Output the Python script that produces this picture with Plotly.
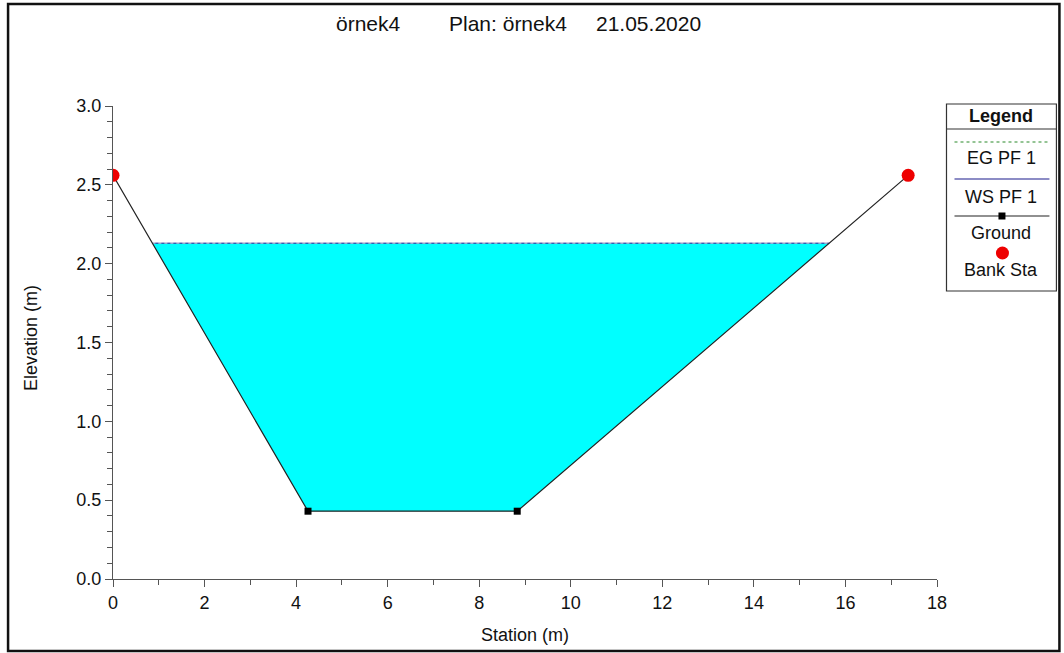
import plotly.graph_objects as go

# ---- data ----
ground_station = [0.0, 4.26, 8.83, 17.37]
ground_elev = [2.56, 0.43, 0.43, 2.56]
bank_station = [0.0, 17.37]
bank_elev = [2.56, 2.56]
ws_elev = 2.13
eg_elev = 2.131
title_parts = ["örnek4", "Plan: örnek4", "21.05.2020"]
legend_labels = ["EG PF 1", "WS PF 1", "Ground", "Bank Sta"]
x_title = "Station (m)"
y_title = "Elevation (m)"

# ---- geometry helpers ----
W, H = 1064, 653
L, R, T, B = 113, 937.5, 106, 579  # plot area in pixels


def px(x):
    return (x - L) / (R - L)


def py(y):
    return (B - y) / (B - T)


def crossings(xs, ys, level):
    pts = []
    for i in range(len(xs) - 1):
        y0, y1 = ys[i], ys[i + 1]
        if (y0 - level) * (y1 - level) < 0:
            t = (level - y0) / (y1 - y0)
            pts.append(xs[i] + t * (xs[i + 1] - xs[i]))
    return pts


xl, xr = crossings(ground_station, ground_elev, ws_elev)
fill_x = [xl] + [s for s, e in zip(ground_station, ground_elev) if e < ws_elev] + [xr, xl]
fill_y = [ws_elev] + [e for e in ground_elev if e < ws_elev] + [ws_elev, ws_elev]

fig = go.Figure()
fig.add_trace(go.Scatter(x=fill_x, y=fill_y, mode="lines", fill="toself",
                         fillcolor="#00FFFF", line=dict(width=0), hoverinfo="skip"))
fig.add_trace(go.Scatter(x=[xl, xr], y=[ws_elev, ws_elev], mode="lines",
                         line=dict(color="#1a1a8c", width=1)))
fig.add_trace(go.Scatter(x=[xl, xr], y=[eg_elev, eg_elev], mode="lines",
                         line=dict(color="#f0f0f0", width=1, dash="dot")))
fig.add_trace(go.Scatter(x=ground_station, y=ground_elev, mode="lines+markers",
                         line=dict(color="#222222", width=1.2),
                         marker=dict(symbol="square", size=7, color="black")))
fig.add_trace(go.Scatter(x=bank_station, y=bank_elev, mode="markers",
                         marker=dict(symbol="circle", size=13, color="#ee0000")))

shapes = []
annotations = []
FONT = "Liberation Sans, Arial, sans-serif"
TXT = "#111111"

# outer frame
shapes.append(dict(type="rect", xref="paper", yref="paper",
                   x0=px(8), x1=px(1060), y0=py(651), y1=py(4),
                   line=dict(color="#111111", width=2.5)))

# title
for text, cx in zip(title_parts, [369, 508, 649]):
    annotations.append(dict(text=text, xref="paper", yref="paper", x=px(cx), y=py(23),
                            showarrow=False, xanchor="center", yanchor="middle",
                            font=dict(family=FONT, size=21, color=TXT)))

# axis titles
annotations.append(dict(text=x_title, xref="paper", yref="paper", x=px(525), y=py(635),
                        showarrow=False, xanchor="center", yanchor="middle",
                        font=dict(family=FONT, size=18, color=TXT)))
annotations.append(dict(text=y_title, xref="paper", yref="paper", x=px(31), y=py(338),
                        showarrow=False, xanchor="center", yanchor="middle", textangle=-90,
                        font=dict(family=FONT, size=18, color=TXT)))

# legend box
lx0, lx1, ly0, ly1 = 947, 1057, 104, 291
shapes.append(dict(type="rect", xref="paper", yref="paper",
                   x0=px(lx0), x1=px(lx1), y0=py(ly1), y1=py(ly0),
                   line=dict(color="#333333", width=1.2), fillcolor="white"))
shapes.append(dict(type="line", xref="paper", yref="paper",
                   x0=px(lx0), x1=px(lx1), y0=py(129), y1=py(129),
                   line=dict(color="#333333", width=1.2)))
annotations.append(dict(text="<b>Legend</b>", xref="paper", yref="paper",
                        x=px(1002), y=py(116), showarrow=False,
                        xanchor="center", yanchor="middle",
                        font=dict(family=FONT, size=18, color=TXT)))
# symbol lines
shapes.append(dict(type="line", xref="paper", yref="paper", x0=px(955), x1=px(1050),
                   y0=py(142), y1=py(142), line=dict(color="#2a8a2a", width=1.2, dash="dot")))
shapes.append(dict(type="line", xref="paper", yref="paper", x0=px(955), x1=px(1050),
                   y0=py(179), y1=py(179), line=dict(color="#1a1a8c", width=1.2)))
shapes.append(dict(type="line", xref="paper", yref="paper", x0=px(955), x1=px(1050),
                   y0=py(216), y1=py(216), line=dict(color="#222222", width=1.2)))
shapes.append(dict(type="rect", xref="paper", yref="paper", x0=px(999), x1=px(1006),
                   y0=py(219.5), y1=py(212.5), line=dict(width=0), fillcolor="black"))
shapes.append(dict(type="circle", xref="paper", yref="paper", x0=px(996.5), x1=px(1009.5),
                   y0=py(259.5), y1=py(246.5), line=dict(width=0), fillcolor="#ee0000"))
for lab, yy in zip(legend_labels, [158, 197, 233, 270]):
    annotations.append(dict(text=lab, xref="paper", yref="paper", x=px(1002), y=py(yy),
                            showarrow=False, xanchor="center", yanchor="middle",
                            font=dict(family=FONT, size=18, color=TXT)))

axis_common = dict(showline=True, linecolor="#555555", linewidth=1.2, ticks="outside",
                   tickcolor="#555555", ticklen=7, tickwidth=1.2, showgrid=False,
                   zeroline=False, tickfont=dict(family=FONT, size=18, color=TXT),
                   mirror=False)

fig.update_layout(
    width=W, height=H, autosize=False,
    margin=dict(l=L, r=W - R, t=T, b=H - B),
    paper_bgcolor="white", plot_bgcolor="white",
    showlegend=False,
    shapes=shapes, annotations=annotations,
    xaxis=dict(range=[0, 18], dtick=2, tick0=0,
               minor=dict(dtick=1, ticks="outside", ticklen=5, tickcolor="#555555"),
               **axis_common),
    yaxis=dict(range=[0, 3.0], dtick=0.5, tick0=0, tickformat=".1f",
               minor=dict(dtick=0.1, ticks="outside", ticklen=5, tickcolor="#555555"),
               **axis_common),
)

fig.write_html("out.html", config={"displayModeBar": False},
               post_script="document.body.style.margin='0';document.body.style.overflow='hidden';")
